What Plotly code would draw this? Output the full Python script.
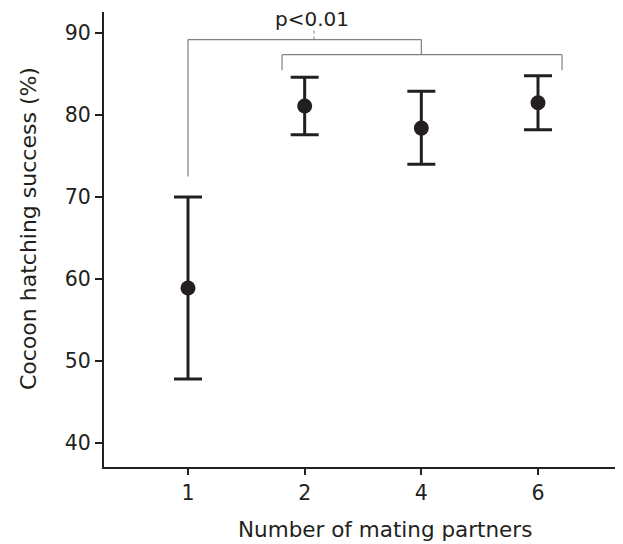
import plotly.graph_objects as go

# Data
categories = ["1", "2", "4", "6"]
means = [58.9, 81.1, 78.4, 81.5]
upper = [70.0, 84.6, 82.9, 84.8]
lower = [47.8, 77.6, 74.0, 78.2]
y_ticks = [40, 50, 60, 70, 80, 90]
sig_label = "p<0.01"

xi = list(range(len(categories)))
err_plus = [u - m for u, m in zip(upper, means)]
err_minus = [m - l for m, l in zip(means, lower)]

dark = "#231f20"
grey = "#808080"
font_family = "DejaVu Sans, Liberation Sans, Arial, sans-serif"

fig = go.Figure()
fig.add_trace(go.Scatter(
    x=xi, y=means, mode="markers",
    marker=dict(size=15, color=dark),
    error_y=dict(type="data", symmetric=False, array=err_plus, arrayminus=err_minus,
                 thickness=3, width=14, color=dark),
    showlegend=False, hoverinfo="skip",
))

# significance brackets (data coordinates)
line_style = dict(color=grey, width=1.2)
shapes = [
    dict(type="line", x0=0, x1=0, y0=72.5, y1=89.2, line=line_style),
    dict(type="line", x0=0, x1=2, y0=89.2, y1=89.2, line=line_style),
    dict(type="line", x0=2, x1=2, y0=89.2, y1=87.35, line=line_style),
    dict(type="line", x0=0.806, x1=3.206, y0=87.35, y1=87.35, line=line_style),
    dict(type="line", x0=0.806, x1=0.806, y0=87.35, y1=85.45, line=line_style),
    dict(type="line", x0=3.206, x1=3.206, y0=87.35, y1=85.45, line=line_style),
    dict(type="line", x0=1.08, x1=1.08, y0=89.2, y1=90.3, line=dict(color=grey, width=1, dash="dot")),
]

annotations = [
    dict(text=sig_label, x=1.063, y=91.75, xref="x", yref="y", showarrow=False,
         xanchor="center", yanchor="middle", font=dict(size=20, color=dark, family=font_family)),
    dict(text="Number of mating partners", x=0.5425, y=-0.138, xref="paper", yref="paper",
         showarrow=False, xanchor="center", yanchor="middle",
         font=dict(size=21.5, color=dark, family=font_family)),
    dict(text="Cocoon hatching success (%)", x=-0.1467, y=0.523, xref="paper", yref="paper",
         showarrow=False, xanchor="center", yanchor="middle", textangle=-90,
         font=dict(size=22, color=dark, family=font_family)),
]

fig.update_layout(
    width=615, height=536,
    margin=dict(l=96, r=1, t=4, b=77),
    paper_bgcolor="white", plot_bgcolor="white",
    font=dict(family=font_family, size=20.5, color=dark),
    shapes=shapes, annotations=annotations,
    xaxis=dict(
        tickmode="array", tickvals=xi, ticktext=categories,
        range=[-0.72, 3.72], showline=True, linecolor=dark, linewidth=2,
        ticks="outside", ticklen=6, tickwidth=2, tickcolor=dark,
        showgrid=False, zeroline=False, fixedrange=True,
    ),
    yaxis=dict(
        tickmode="array", tickvals=y_ticks,
        range=[37.07, 92.56], showline=True, linecolor=dark, linewidth=2,
        ticks="outside", ticklen=7, tickwidth=2, tickcolor=dark,
        showgrid=False, zeroline=False, fixedrange=True,
    ),
)

fig.write_html("out.html")
